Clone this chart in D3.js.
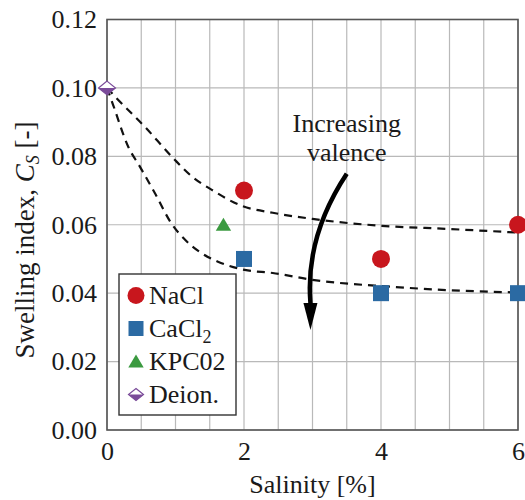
<!DOCTYPE html>
<html>
<head>
<meta charset="utf-8">
<script src="https://cdn.jsdelivr.net/npm/d3@7"></script>
<style>
  body { margin: 0; background: #fff; }
  svg, svg text { font-family: "Liberation Serif", Tinos, "Times New Roman", "DejaVu Serif", serif; }
</style>
</head>
<body>
<div id="chart"></div>
<script>
const xTickValues = [0, 2, 4, 6];
const xGridValues = [0, 0.5, 1, 1.5, 2, 2.5, 3, 3.5, 4, 4.5, 5, 5.5, 6];
const yTickValues = [0, 0.02, 0.04, 0.06, 0.08, 0.10, 0.12];

const naclSalinity = [2, 4, 6];
const naclIndex = [0.07, 0.05, 0.06];
const cacl2Salinity = [2, 4, 6];
const cacl2Index = [0.05, 0.04, 0.04];
const kpcSalinity = [1.7];
const kpcIndex = [0.06];
const deionSalinity = [0];
const deionIndex = [0.10];

// dashed trend curves
const upperCurveX = [0, 0.14, 0.55, 0.97, 1.24, 1.53, 1.97, 2.42, 3.0, 3.99, 4.96, 6];
const upperCurveY = [0.100, 0.0970, 0.0887, 0.0794, 0.0741, 0.0702, 0.0655, 0.0635, 0.0617, 0.0597, 0.0588, 0.0577];
const lowerCurveX = [0, 0.09, 0.31, 0.48, 0.70, 0.94, 1.14, 1.38, 1.62, 2.01, 2.42, 3.0, 4.13, 4.96, 6];
const lowerCurveY = [0.100, 0.0950, 0.0828, 0.0770, 0.0692, 0.0604, 0.0556, 0.0517, 0.0492, 0.0468, 0.0459, 0.0439, 0.0419, 0.0409, 0.0402];

const legendLabels = ["NaCl", "CaCl2", "KPC02", "Deion."];

const colors = {
  nacl: "#c8161d",
  cacl2: "#2b6aa3",
  kpc: "#3b9a40",
  deion: "#7a4b99",
};

const fontStack = '"Liberation Serif", Tinos, "Times New Roman", "DejaVu Serif", serif';

const margin = { top: 19.5, right: 7, bottom: 70, left: 107 };
const width = 525 - margin.left - margin.right;
const height = 500 - margin.top - margin.bottom;

const x = d3.scaleLinear().domain([0, 6]).range([0, width]);
const y = d3.scaleLinear().domain([0, 0.12]).range([height, 0]);

const zip = (xs, ys) => xs.map((v, i) => [v, ys[i]]);

const svg = d3
  .select("#chart")
  .append("svg")
  .attr("width", 525)
  .attr("height", 500)
  .attr("font-family", fontStack);

const g = svg
  .append("g")
  .attr("transform", `translate(${margin.left},${margin.top})`);

// grid
g.append("g")
  .selectAll("line")
  .data(xGridValues)
  .join("line")
  .attr("x1", (d) => x(d))
  .attr("x2", (d) => x(d))
  .attr("y1", 0)
  .attr("y2", height)
  .attr("stroke", "#b9b9b9")
  .attr("stroke-width", 1.2);

g.append("g")
  .selectAll("line")
  .data(yTickValues)
  .join("line")
  .attr("x1", 0)
  .attr("x2", width)
  .attr("y1", (d) => y(d))
  .attr("y2", (d) => y(d))
  .attr("stroke", "#b9b9b9")
  .attr("stroke-width", 1.2);

// frame
g.append("rect")
  .attr("width", width)
  .attr("height", height)
  .attr("fill", "none")
  .attr("stroke", "#555")
  .attr("stroke-width", 1.6);

// axes
g.append("g")
  .attr("class", "y axis")
  .call(d3.axisLeft(y).tickValues(yTickValues).tickFormat(d3.format(".2f")).tickSize(0).tickPadding(10))
  .attr("font-family", fontStack)
  .call((g) => g.select(".domain").remove())
  .call((g) => g.selectAll("text").attr("font-size", 26).attr("fill", "#1a1a1a"));

g.append("g")
  .attr("class", "x axis")
  .attr("transform", `translate(0,${height})`)
  .call(d3.axisBottom(x).tickValues(xTickValues).tickFormat(d3.format("d")).tickSize(0).tickPadding(12))
  .attr("font-family", fontStack)
  .call((g) => g.select(".domain").remove())
  .call((g) => g.selectAll("text").attr("font-size", 26).attr("fill", "#1a1a1a"));

svg.append("text")
  .attr("x", margin.left + x(3))
  .attr("y", 493)
  .attr("text-anchor", "middle")
  .attr("font-size", 26)
  .attr("fill", "#1a1a1a")
  .text("Salinity [%]");

const yLabel = svg.append("text")
  .attr("transform", "translate(34,240) rotate(-90)")
  .attr("text-anchor", "middle")
  .attr("font-size", 27)
  .attr("fill", "#1a1a1a");
yLabel.append("tspan").text("Swelling index, ");
yLabel.append("tspan").attr("font-style", "italic").text("C");
yLabel.append("tspan").attr("font-style", "italic").attr("font-size", 18).attr("dy", 5).text("S");
yLabel.append("tspan").attr("dy", -5).text(" [-]");

// dashed curves
const line = d3
  .line()
  .x((d) => x(d[0]))
  .y((d) => y(d[1]))
  .curve(d3.curveMonotoneX);

g.append("g")
  .attr("fill", "none")
  .attr("stroke", "#111")
  .attr("stroke-width", 2.2)
  .attr("stroke-dasharray", "8,6")
  .selectAll("path")
  .data([zip(upperCurveX, upperCurveY), zip(lowerCurveX, lowerCurveY)])
  .join("path")
  .attr("d", line);

// markers
const shapes = {
  circle: (s) => `M${-s},0A${s},${s} 0 1,0 ${s},0A${s},${s} 0 1,0 ${-s},0Z`,
  square: (s) => `M${-s},${-s}H${s}V${s}H${-s}Z`,
  triangle: (s) => `M0,${-s}L${s * 1.1},${s * 0.85}H${-s * 1.1}Z`,
  diamond: (s) => `M0,${-s * 0.8}L${s},0L0,${s * 0.8}L${-s},0Z`,
  diamondLower: (s) => `M${-s},0H${s}L0,${s * 0.8}Z`,
};

function drawPoints(xs, ys, path, color) {
  g.append("g")
    .selectAll("path")
    .data(zip(xs, ys))
    .join("path")
    .attr("transform", (d) => `translate(${x(d[0])},${y(d[1])})`)
    .attr("d", path)
    .attr("fill", color);
}

drawPoints(naclSalinity, naclIndex, shapes.circle(9), colors.nacl);
drawPoints(cacl2Salinity, cacl2Index, shapes.square(8), colors.cacl2);
drawPoints(kpcSalinity, kpcIndex, shapes.triangle(7), colors.kpc);

const deion = g.append("g")
  .selectAll("g")
  .data(zip(deionSalinity, deionIndex))
  .join("g")
  .attr("transform", (d) => `translate(${x(d[0])},${y(d[1])})`);
deion.append("path").attr("d", shapes.diamond(8.5)).attr("fill", "#fff").attr("stroke", colors.deion).attr("stroke-width", 1.2);
deion.append("path").attr("d", shapes.diamondLower(8.5)).attr("fill", colors.deion);

// annotation
const note = g.append("text")
  .attr("text-anchor", "middle")
  .attr("font-size", 26)
  .attr("fill", "#1a1a1a");
note.append("tspan").attr("x", x(3.5)).attr("y", y(0.0872)).text("Increasing");
note.append("tspan").attr("x", x(3.5)).attr("y", y(0.0785)).text("valence");

const arrowStart = [x(3.5), y(0.0749)];
const arrowCtrl = [x(2.89), y(0.0564)];
const arrowEnd = [x(2.97), y(0.0371)];
const arrowTip = [x(2.97), y(0.0292)];

g.append("path")
  .attr("d", `M${arrowStart}Q${arrowCtrl} ${arrowEnd}`)
  .attr("fill", "none")
  .attr("stroke", "#000")
  .attr("stroke-width", 4.5);

g.append("path")
  .attr("d", `M${arrowTip}L${arrowEnd[0] - 7},${arrowEnd[1]}L${arrowEnd[0] + 7},${arrowEnd[1]}Z`)
  .attr("fill", "#000");

// legend
const legend = g.append("g").attr("transform", "translate(12,254.5)");
legend.append("rect")
  .attr("width", 117)
  .attr("height", 141)
  .attr("fill", "#fff")
  .attr("stroke", "#333")
  .attr("stroke-width", 1.4);

const legendItems = legend
  .selectAll("g")
  .data(legendLabels)
  .join("g")
  .attr("transform", (d, i) => `translate(17,${21.5 + i * 33})`);

legendItems.each(function (d, i) {
  const item = d3.select(this);
  if (i === 0) item.append("path").attr("d", shapes.circle(8.5)).attr("fill", colors.nacl);
  if (i === 1) item.append("path").attr("d", shapes.square(7.5)).attr("fill", colors.cacl2);
  if (i === 2) item.append("path").attr("d", shapes.triangle(7)).attr("fill", colors.kpc);
  if (i === 3) {
    item.append("path").attr("d", shapes.diamond(7.5)).attr("fill", "#fff").attr("stroke", colors.deion).attr("stroke-width", 1.2);
    item.append("path").attr("d", shapes.diamondLower(7.5)).attr("fill", colors.deion);
  }
  const t = item.append("text")
    .attr("x", 13)
    .attr("y", 8)
    .attr("font-size", 26)
    .attr("fill", "#1a1a1a");
  if (d === "CaCl2") {
    t.append("tspan").text("CaCl");
    t.append("tspan").attr("font-size", 18).attr("dy", 6).text("2");
  } else {
    t.text(d);
  }
});
</script>
</body>
</html>
